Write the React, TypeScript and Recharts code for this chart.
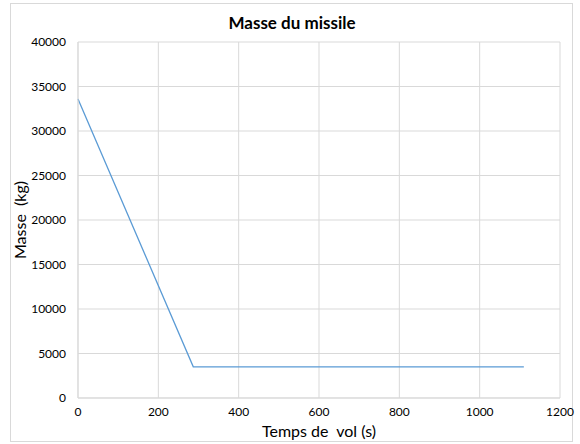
import { CartesianGrid, Label, Line, LineChart, XAxis, YAxis } from "recharts";

const times = [0, 287, 1110];
const masses = [33600, 3500, 3500];
const xTicks = [0, 200, 400, 600, 800, 1000, 1200];
const yTicks = [0, 5000, 10000, 15000, 20000, 25000, 30000, 35000, 40000];

const data = times.map((t, i) => ({ t, m: masses[i] }));

const font = "Lato, 'Noto Sans', sans-serif";

export default function App() {
  return (
    <div style={{ position: "fixed", left: 0, top: 0, width: 580, height: 444, background: "#fff", fontFamily: font }}>
      <div
        style={{
          position: "absolute",
          left: 10,
          top: 3,
          width: 561,
          height: 437,
          border: "1px solid #d9d9d9",
        }}
      />
      <div
        style={{
          position: "absolute",
          left: 0,
          top: 12,
          width: 584,
          textAlign: "center",
          fontWeight: 700,
          fontSize: 17,
          color: "#000",
        }}
      >
        Masse du missile
      </div>
      <div style={{ position: "absolute", left: 0, top: 0 }}>
        <LineChart width={580} height={444} data={data} margin={{ top: 42, right: 20, bottom: 16, left: 18 }}>
          <CartesianGrid stroke="#d9d9d9" strokeWidth={1} />
          <XAxis
            dataKey="t"
            type="number"
            domain={[0, 1200]}
            ticks={xTicks}
            height={30}
            axisLine={{ stroke: "#d9d9d9" }}
            tickLine={false}
            tickSize={0}
            tickMargin={9}
            tick={{ fill: "#000", fontSize: 12, fontFamily: font }}
          >
            <Label
              content={() => (
                <text x={319} y={437} textAnchor="middle" fontSize={16} fontFamily={font} fill="#000" style={{ whiteSpace: "pre" }}>
                  {"Temps de  vol (s)"}
                </text>
              )}
            />
          </XAxis>
          <YAxis
            type="number"
            domain={[0, 40000]}
            ticks={yTicks}
            width={60}
            axisLine={{ stroke: "#d9d9d9" }}
            tickLine={false}
            tickSize={0}
            tickMargin={12}
            tick={{ fill: "#000", fontSize: 12, fontFamily: font }}
          >
            <Label
              content={() => (
                <text
                  x={26}
                  y={220}
                  textAnchor="middle"
                  fontSize={16}
                  fontFamily={font}
                  fill="#000"
                  transform="rotate(-90 26 220)"
                  style={{ whiteSpace: "pre" }}
                >
                  {"Masse  (kg)"}
                </text>
              )}
            />
          </YAxis>
          <Line
            type="linear"
            dataKey="m"
            stroke="#5b9bd5"
            strokeWidth={1.3}
            dot={false}
            isAnimationActive={false}
          />
        </LineChart>
      </div>
    </div>
  );
}
